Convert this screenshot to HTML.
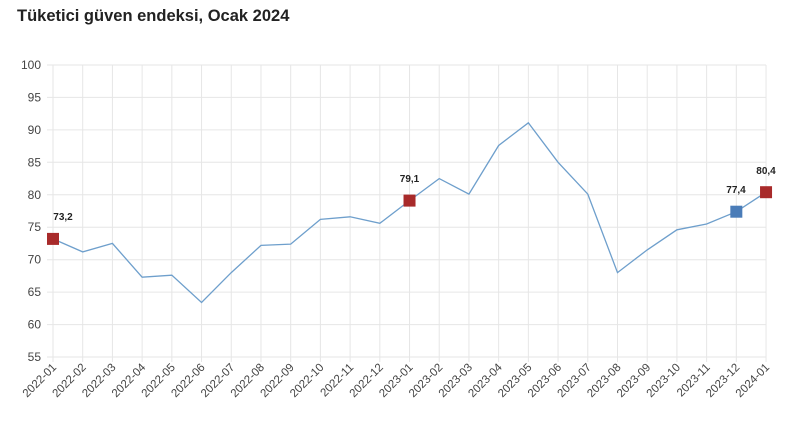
<!DOCTYPE html><html><head><meta charset="utf-8"><style>body{margin:0;background:#fff}svg{display:block}text{font-family:"Liberation Sans",Arial,sans-serif}</style></head><body>
<svg width="800" height="443" viewBox="0 0 800 443" xmlns="http://www.w3.org/2000/svg">
<text x="17" y="21" font-size="16.5" font-weight="bold" fill="#222">Tüketici güven endeksi, Ocak 2024</text>
<g stroke="#e6e6e6">
<line x1="47" x2="766" y1="65" y2="65"/><line x1="47" x2="766" y1="97.4" y2="97.4"/><line x1="47" x2="766" y1="129.9" y2="129.9"/><line x1="47" x2="766" y1="162.3" y2="162.3"/><line x1="47" x2="766" y1="194.8" y2="194.8"/><line x1="47" x2="766" y1="227.2" y2="227.2"/><line x1="47" x2="766" y1="259.7" y2="259.7"/><line x1="47" x2="766" y1="292.1" y2="292.1"/><line x1="47" x2="766" y1="324.6" y2="324.6"/><line x1="47" x2="766" y1="357" y2="357"/>
<line x1="53" x2="53" y1="65" y2="362"/><line x1="82.71" x2="82.71" y1="65" y2="362"/><line x1="112.42" x2="112.42" y1="65" y2="362"/><line x1="142.13" x2="142.13" y1="65" y2="362"/><line x1="171.84" x2="171.84" y1="65" y2="362"/><line x1="201.55" x2="201.55" y1="65" y2="362"/><line x1="231.26" x2="231.26" y1="65" y2="362"/><line x1="260.97" x2="260.97" y1="65" y2="362"/><line x1="290.68" x2="290.68" y1="65" y2="362"/><line x1="320.39" x2="320.39" y1="65" y2="362"/><line x1="350.1" x2="350.1" y1="65" y2="362"/><line x1="379.81" x2="379.81" y1="65" y2="362"/><line x1="409.52" x2="409.52" y1="65" y2="362"/><line x1="439.23" x2="439.23" y1="65" y2="362"/><line x1="468.94" x2="468.94" y1="65" y2="362"/><line x1="498.65" x2="498.65" y1="65" y2="362"/><line x1="528.36" x2="528.36" y1="65" y2="362"/><line x1="558.07" x2="558.07" y1="65" y2="362"/><line x1="587.78" x2="587.78" y1="65" y2="362"/><line x1="617.49" x2="617.49" y1="65" y2="362"/><line x1="647.2" x2="647.2" y1="65" y2="362"/><line x1="676.91" x2="676.91" y1="65" y2="362"/><line x1="706.62" x2="706.62" y1="65" y2="362"/><line x1="736.33" x2="736.33" y1="65" y2="362"/><line x1="766.04" x2="766.04" y1="65" y2="362"/>
</g>
<g font-size="12" fill="#444" text-anchor="end">
<text x="41" y="69">100</text><text x="41" y="101.4">95</text><text x="41" y="133.9">90</text><text x="41" y="166.3">85</text><text x="41" y="198.8">80</text><text x="41" y="231.2">75</text><text x="41" y="263.7">70</text><text x="41" y="296.1">65</text><text x="41" y="328.6">60</text><text x="41" y="361">55</text>
</g>
<g font-size="11.5" fill="#444" text-anchor="end">
<text transform="translate(57,368) rotate(-45)">2022-01</text>
<text transform="translate(86.71,368) rotate(-45)">2022-02</text>
<text transform="translate(116.42,368) rotate(-45)">2022-03</text>
<text transform="translate(146.13,368) rotate(-45)">2022-04</text>
<text transform="translate(175.84,368) rotate(-45)">2022-05</text>
<text transform="translate(205.55,368) rotate(-45)">2022-06</text>
<text transform="translate(235.26,368) rotate(-45)">2022-07</text>
<text transform="translate(264.97,368) rotate(-45)">2022-08</text>
<text transform="translate(294.68,368) rotate(-45)">2022-09</text>
<text transform="translate(324.39,368) rotate(-45)">2022-10</text>
<text transform="translate(354.1,368) rotate(-45)">2022-11</text>
<text transform="translate(383.81,368) rotate(-45)">2022-12</text>
<text transform="translate(413.52,368) rotate(-45)">2023-01</text>
<text transform="translate(443.23,368) rotate(-45)">2023-02</text>
<text transform="translate(472.94,368) rotate(-45)">2023-03</text>
<text transform="translate(502.65,368) rotate(-45)">2023-04</text>
<text transform="translate(532.36,368) rotate(-45)">2023-05</text>
<text transform="translate(562.07,368) rotate(-45)">2023-06</text>
<text transform="translate(591.78,368) rotate(-45)">2023-07</text>
<text transform="translate(621.49,368) rotate(-45)">2023-08</text>
<text transform="translate(651.2,368) rotate(-45)">2023-09</text>
<text transform="translate(680.91,368) rotate(-45)">2023-10</text>
<text transform="translate(710.62,368) rotate(-45)">2023-11</text>
<text transform="translate(740.33,368) rotate(-45)">2023-12</text>
<text transform="translate(770.04,368) rotate(-45)">2024-01</text>
</g>
<polyline fill="none" stroke="#6e9fcc" stroke-width="1.3" points="53,238.9 82.71,251.9 112.42,243.4 142.13,277.2 171.84,275.2 201.55,302.5 231.26,272.6 260.97,245.4 290.68,244.1 320.39,219.4 350.1,216.8 379.81,223.3 409.52,200.6 439.23,178.6 468.94,194.1 498.65,145.5 528.36,122.8 558.07,162.3 587.78,194.1 617.49,272.6 647.2,249.9 676.91,229.8 706.62,224 736.33,211.7 766.04,192.2"/>
<rect x="47" y="232.9" width="12" height="12" fill="#a82a2a"/>
<rect x="403.52" y="194.6" width="12" height="12" fill="#a82a2a"/>
<rect x="730.33" y="205.7" width="12" height="12" fill="#4a7cb8"/>
<rect x="760.04" y="186.2" width="12" height="12" fill="#a82a2a"/>
<g font-size="10" font-weight="bold" fill="#222" text-anchor="middle">
<text x="63" y="220">73,2</text>
<text x="409.5" y="182">79,1</text>
<text x="736" y="193">77,4</text>
<text x="766" y="174">80,4</text>
</g>
</svg></body></html>
